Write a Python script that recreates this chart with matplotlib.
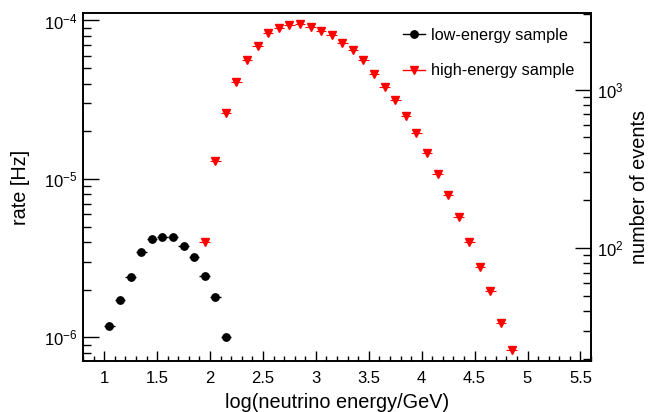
import numpy as np
import matplotlib
matplotlib.use("Agg")
import matplotlib.pyplot as plt
from matplotlib.lines import Line2D
from matplotlib.ticker import MultipleLocator, FuncFormatter, LogLocator, NullFormatter

plt.rcParams["font.family"] = ["Liberation Sans", "DejaVu Sans"]
plt.rcParams["mathtext.fontset"] = "custom"
plt.rcParams["mathtext.rm"] = "Liberation Sans"
plt.rcParams["mathtext.it"] = "Liberation Sans:italic"
plt.rcParams["mathtext.bf"] = "Liberation Sans:bold"

# low-energy sample (log10 E/GeV bin centres, rate in Hz)
energy_low = [1.05, 1.15, 1.25, 1.35, 1.45, 1.55, 1.65, 1.75, 1.85, 1.95, 2.05, 2.15]
rate_low = [1.18e-6, 1.73e-6, 2.39e-6, 3.46e-6, 4.18e-6, 4.32e-6,
            4.32e-6, 3.80e-6, 3.23e-6, 2.44e-6, 1.79e-6, 1.00e-6]

# high-energy sample
energy_high = [1.95, 2.05, 2.15, 2.25, 2.35, 2.45, 2.55, 2.65, 2.75, 2.85,
               2.95, 3.05, 3.15, 3.25, 3.35, 3.45, 3.55, 3.65, 3.75, 3.85,
               3.95, 4.05, 4.15, 4.25, 4.35, 4.45, 4.55, 4.65, 4.75, 4.85]
rate_high = [4.00e-6, 1.29e-5, 2.61e-5, 4.09e-5, 5.65e-5, 6.95e-5, 8.33e-5, 9.03e-5, 9.35e-5, 9.49e-5,
             9.08e-5, 8.61e-5, 8.09e-5, 7.23e-5, 6.47e-5, 5.65e-5, 4.59e-5, 3.83e-5, 3.16e-5, 2.49e-5,
             1.94e-5, 1.45e-5, 1.075e-5, 7.87e-6, 5.72e-6, 4.02e-6, 2.79e-6, 1.95e-6, 1.23e-6, 8.36e-7]

half_bin = 0.05
livetime = 2.73e7  # seconds, converts rate to number of events
rate_range = (7.1e-7, 1.11e-4)

fig = plt.figure(figsize=(6.58, 4.12), dpi=100)
ax = fig.add_axes([83 / 658, 1 - 361 / 412, (591 - 83) / 658, (361 - 13.3) / 412])

ax.errorbar(energy_low, rate_low, xerr=half_bin, fmt="o", color="black",
            ms=5.3, elinewidth=1.0, capsize=0)
ax.errorbar(energy_high, rate_high, xerr=half_bin, fmt="v", color="red",
            ms=6, elinewidth=0.8, capsize=0)

ax.set_yscale("log")
ax.set_xlim(0.8, 5.6)
ax.set_ylim(*rate_range)

ax.xaxis.set_major_locator(MultipleLocator(0.5))
ax.xaxis.set_minor_locator(MultipleLocator(0.1))
ax.xaxis.set_major_formatter(FuncFormatter(lambda v, p: "%g" % v))
ax.yaxis.set_minor_locator(LogLocator(base=10, subs=np.arange(2, 10)))
ax.yaxis.set_minor_formatter(NullFormatter())

ax.tick_params(axis="x", which="major", direction="in", length=7.2, width=1.0,
               labelsize=12, pad=7, top=False)
ax.tick_params(axis="x", which="minor", direction="in", length=3.6, width=1.0, top=False)
ax.tick_params(axis="y", which="major", direction="in", length=11.3, width=1.0,
               labelsize=12, pad=4, right=False)
ax.tick_params(axis="y", which="minor", direction="in", length=5.5, width=1.0, right=False)
for s in ax.spines.values():
    s.set_linewidth(1.2)

ax.set_xlabel("log(neutrino energy/GeV)", fontsize=14.3, labelpad=5)
ax.set_ylabel("rate [Hz]", fontsize=14.3, labelpad=10)

ax2 = ax.twinx()
ax2.set_yscale("log")
ax2.set_ylim(rate_range[0] * livetime, rate_range[1] * livetime)
ax2.yaxis.set_minor_locator(LogLocator(base=10, subs=np.arange(2, 10)))
ax2.yaxis.set_minor_formatter(NullFormatter())
ax2.tick_params(axis="y", which="major", direction="in", length=11.3, width=1.0,
                labelsize=12, pad=4)
ax2.tick_params(axis="y", which="minor", direction="in", length=5.5, width=1.0)
ax2.set_ylabel("number of events", fontsize=14.3, labelpad=5)
for s in ax2.spines.values():
    s.set_linewidth(1.2)

handles = [
    Line2D([], [], color="black", marker="o", ms=5.3, lw=1.0),
    Line2D([], [], color="red", marker="v", ms=6, lw=1.0),
]
ax.legend(handles, ["low-energy sample", "high-energy sample"], frameon=False,
          loc="upper left", bbox_to_anchor=(403 / 658, 1 - 28 / 412),
          bbox_transform=fig.transFigure, fontsize=11.7, borderpad=0,
          borderaxespad=0, handlelength=1.35, handletextpad=0.35, labelspacing=1.25)

fig.savefig("out.png", dpi=100)
